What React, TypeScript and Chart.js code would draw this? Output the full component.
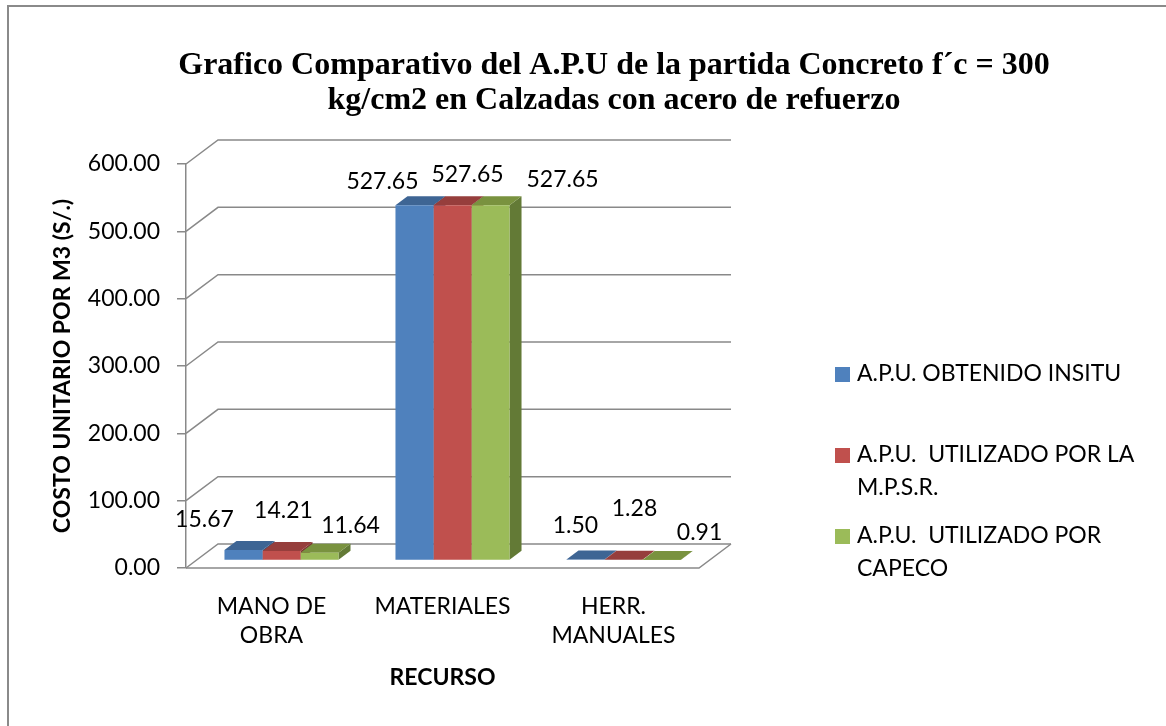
import React, { useEffect, useRef } from "react";
import { Chart, registerables } from "chart.js";

Chart.register(...registerables);

// ---------- data ----------
const titleLines = [
  "Grafico Comparativo del A.P.U de la partida Concreto f´c = 300",
  "kg/cm2 en Calzadas con acero de refuerzo",
];
const categories: (string | string[])[] = [["MANO DE", "OBRA"], "MATERIALES", ["HERR.", "MANUALES"]];
const seriesNames = [
  "A.P.U. OBTENIDO INSITU",
  "A.P.U.  UTILIZADO POR LA M.P.S.R.",
  "A.P.U.  UTILIZADO POR CAPECO",
];
const seriesLegendLines = [
  ["A.P.U. OBTENIDO INSITU"],
  ["A.P.U.  UTILIZADO POR LA", "M.P.S.R."],
  ["A.P.U.  UTILIZADO POR", "CAPECO"],
];
const insituValues = [15.67, 527.65, 1.5];
const mpsrValues = [14.21, 527.65, 1.28];
const capecoValues = [11.64, 527.65, 0.91];
const yMin = 0;
const yMax = 600;
const yStep = 100;
const yAxisTitle = "COSTO UNITARIO POR M3 (S/.)";
const xAxisTitle = "RECURSO";

// ---------- style ----------
const FRONT = ["#4F81BD", "#C0504D", "#9BBB59"];
const TOP = ["#3E6594", "#963E3C", "#79923F"];
const SIDE = ["#34557D", "#7E3432", "#637A36"];
const GRID = "#898989";
const DX = 32;
const DY = -24;
const BAR_FRONT = 0.3125;
const BAR_BACK = 0.6875;
const FONT = "Lato";
const FS = 23;
const CANVAS_W = 1228;
const CANVAS_H = 726;
// label nudges [dataset][category] relative to bar front top centre
const LABEL_NUDGE = [
  [[-39, -30], [-32, -24], [-10, -34]],
  [[2, -40], [15, -31], [11, -51]],
  [[31, -27], [72, -26], [38, -27]],
];

const threeD = {
  id: "threeD",
  beforeDatasetsDraw(chart: any) {
    const { ctx, chartArea } = chart;
    const { left, right } = chartArea;
    const y = chart.scales.y;
    ctx.save();
    ctx.strokeStyle = GRID;
    ctx.lineWidth = 1.5;
    y.ticks.forEach((t: any) => {
      const py = y.getPixelForValue(t.value);
      ctx.beginPath();
      ctx.moveTo(left, py);
      ctx.lineTo(left + DX, py + DY);
      ctx.lineTo(right + DX, py + DY);
      ctx.stroke();
    });
    const by = y.getPixelForValue(0);
    ctx.beginPath();
    ctx.moveTo(left, by);
    ctx.lineTo(right, by);
    ctx.lineTo(right + DX, by + DY);
    ctx.stroke();
    ctx.restore();

    ctx.save();
    ctx.translate(DX * BAR_FRONT, DY * BAR_FRONT);
    const ddx = DX * (BAR_BACK - BAR_FRONT);
    const ddy = DY * (BAR_BACK - BAR_FRONT);
    const n = chart.data.labels.length;
    const nd = chart.data.datasets.length;
    for (let c = 0; c < n; c++) {
      for (let d = 0; d < nd; d++) {
        const el = chart.getDatasetMeta(d).data[c];
        const { x, y: top, base, width } = el.getProps(["x", "y", "base", "width"], true);
        const l = x - width / 2;
        const r = x + width / 2;
        ctx.fillStyle = SIDE[d];
        ctx.beginPath();
        ctx.moveTo(r, top);
        ctx.lineTo(r + ddx, top + ddy);
        ctx.lineTo(r + ddx, base + ddy);
        ctx.lineTo(r, base);
        ctx.closePath();
        ctx.fill();
        ctx.fillStyle = TOP[d];
        ctx.beginPath();
        ctx.moveTo(l, top);
        ctx.lineTo(l + ddx, top + ddy);
        ctx.lineTo(r + ddx, top + ddy);
        ctx.lineTo(r, top);
        ctx.closePath();
        ctx.fill();
      }
    }
    // translation kept for the library's front faces
  },
  afterDatasetsDraw(chart: any) {
    const { ctx } = chart;
    ctx.restore();
    ctx.save();
    ctx.fillStyle = "#000";
    ctx.font = `${FS}px ${FONT}`;
    ctx.textAlign = "center";
    ctx.textBaseline = "middle";
    const fx = DX * BAR_FRONT;
    const fy = DY * BAR_FRONT;
    chart.data.datasets.forEach((ds: any, d: number) => {
      chart.getDatasetMeta(d).data.forEach((el: any, c: number) => {
        const { x, y } = el.getProps(["x", "y"], true);
        const [nx, ny] = LABEL_NUDGE[d][c];
        ctx.fillText(Number(ds.data[c]).toFixed(2), x + fx + nx, y + fy + ny);
      });
    });
    ctx.restore();
  },
  afterDraw(chart: any) {
    const { ctx, chartArea } = chart;
    ctx.save();
    ctx.font = `${FS}px ${FONT}`;
    ctx.textBaseline = "middle";
    ctx.textAlign = "left";
    const bx = chartArea.right + 136;
    const tx = chartArea.right + 158;
    let yy = chartArea.top + 210;
    seriesLegendLines.forEach((lines, d) => {
      ctx.fillStyle = FRONT[d];
      ctx.fillRect(bx, yy - 7, 15, 15);
      ctx.fillStyle = "#000";
      lines.forEach((line, k) => ctx.fillText(line, tx, yy + k * 33));
      yy += 81;
    });
    ctx.restore();
  },
};

export default function App() {
  const ref = useRef<HTMLCanvasElement | null>(null);
  useEffect(() => {
    if (!ref.current) return;
    const values = [insituValues, mpsrValues, capecoValues];
    const chart = new Chart(ref.current, {
      type: "bar",
      data: {
        labels: categories,
        datasets: values.map((v, i) => ({
          label: seriesNames[i],
          data: v,
          backgroundColor: FRONT[i],
          borderWidth: 0,
          categoryPercentage: 0.667,
          barPercentage: 1,
        })),
      },
      options: {
        responsive: false,
        animation: false,
        devicePixelRatio: 1,
        layout: { padding: 0 },
        plugins: {
          legend: { display: false },
          tooltip: { enabled: false },
          title: {
            display: true,
            text: titleLines,
            color: "#000",
            font: { family: "Liberation Serif", size: 32, weight: "bold", lineHeight: 1.09375 },
            padding: { top: 48.5, bottom: 45.5 },
          },
        },
        scales: {
          x: {
            grid: { display: false, drawTicks: false },
            border: { display: false },
            ticks: {
              color: "#000",
              font: { family: FONT, size: FS, lineHeight: 1.26 },
              padding: 24,
              maxRotation: 0,
              autoSkip: false,
            },
            title: {
              display: true,
              text: xAxisTitle,
              color: "#000",
              font: { family: FONT, size: FS, weight: "bold", lineHeight: 1.2 },
              padding: { top: 0, bottom: 35 },
            },
            afterFit: (s: any) => {
              s.height = 158;
            },
          },
          y: {
            min: yMin,
            max: yMax,
            grid: { display: true, drawOnChartArea: false, drawTicks: true, tickLength: 9, color: GRID, lineWidth: 1.5 },
            border: { display: true, color: GRID, width: 1.5 },
            ticks: {
              stepSize: yStep,
              color: "#000",
              font: { family: FONT, size: FS },
              padding: 17,
              callback: (v: any) => Number(v).toFixed(2),
            },
            title: {
              display: true,
              text: yAxisTitle,
              color: "#000",
              font: { family: FONT, size: FS, weight: "bold", lineHeight: 1.2 },
              padding: { top: 49, bottom: 0 },
            },
            afterFit: (s: any) => {
              s.width = 186;
            },
          },
          y2: {
            position: "right",
            display: true,
            grid: { display: false },
            border: { display: false },
            ticks: { display: false },
            afterFit: (s: any) => {
              s.width = CANVAS_W - 699;
            },
          },
        },
      },
      plugins: [threeD],
    } as any);
    return () => chart.destroy();
  }, []);

  return (
    <div style={{ position: "absolute", left: 0, top: 0, width: 1166, height: 726, overflow: "hidden", background: "#fff" }}>
      <div
        style={{
          position: "absolute",
          left: 7,
          top: 5,
          width: 1300,
          height: 900,
          borderLeft: "2px solid #8a8a8a",
          borderTop: "2px solid #8a8a8a",
        }}
      />
      <canvas
        ref={ref}
        width={CANVAS_W}
        height={CANVAS_H}
        style={{ position: "absolute", left: 0, top: 0, width: CANVAS_W, height: CANVAS_H }}
      />
    </div>
  );
}
